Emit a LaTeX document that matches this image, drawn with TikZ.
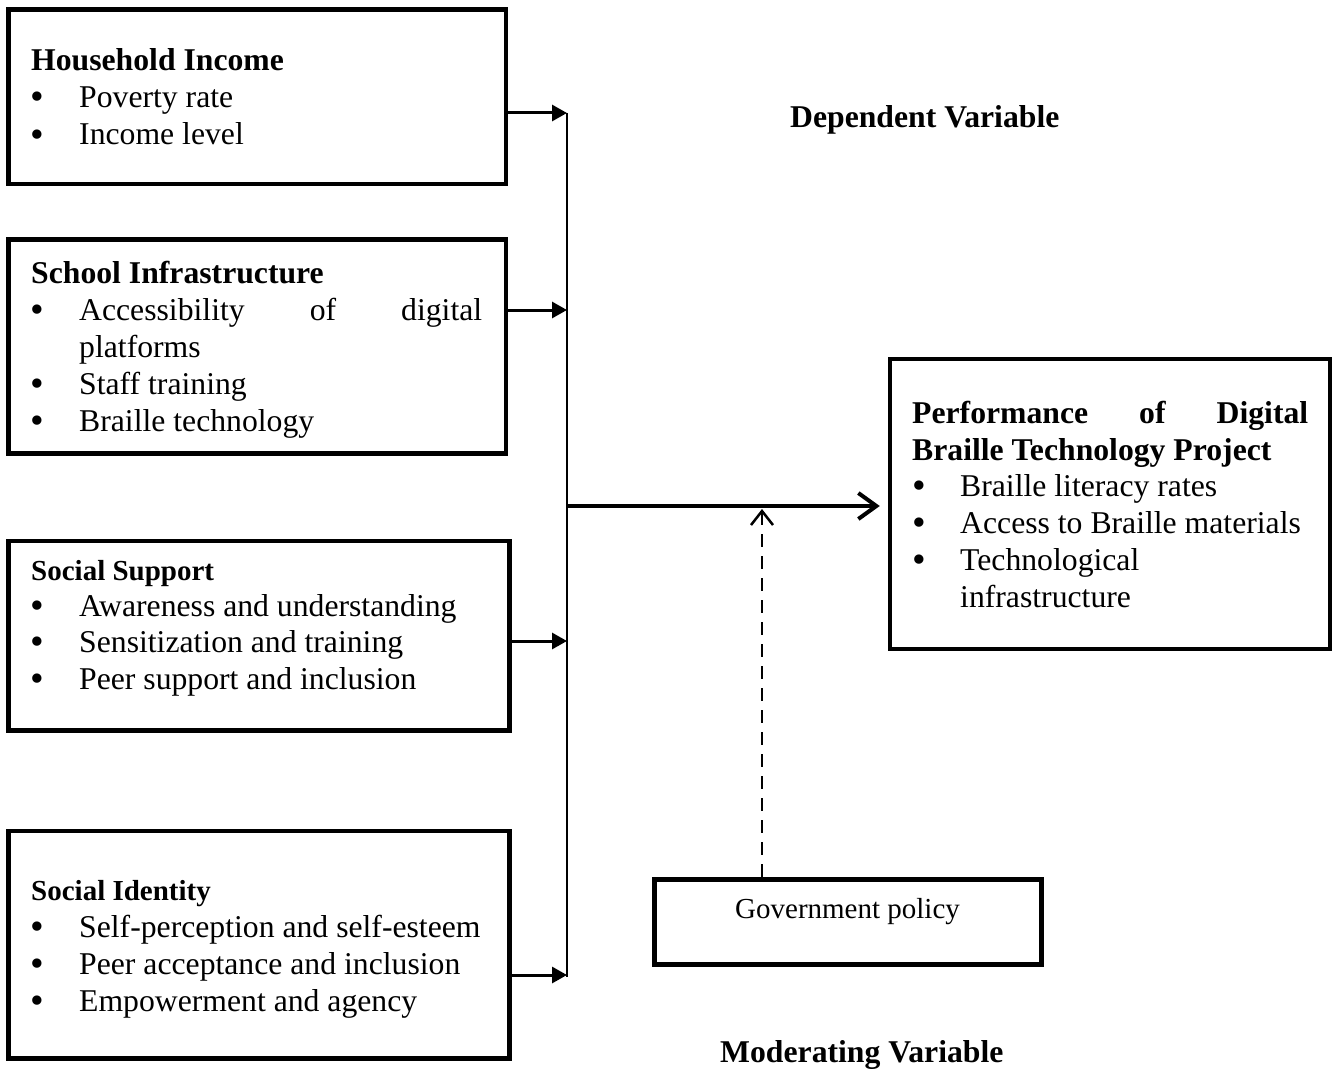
\documentclass[tikz,border=0pt]{standalone}
\usepackage{fontspec}
\setmainfont{Liberation Serif}
\usetikzlibrary{arrows.meta}
\begin{document}
\begin{tikzpicture}[x=1pt,y=-1pt,
  box/.style={draw, line width=4.5pt, inner sep=0pt},
  txt/.style={anchor=base west, inner sep=0pt, font=\fontsize{31.7}{37}\selectfont},
  bul/.style={anchor=base west, inner sep=0pt, yshift=-2pt, font=\fontsize{39}{39}\selectfont},
  head/.style={anchor=base west, inner sep=0pt, font=\fontsize{31.7}{37}\selectfont\bfseries},
  shead/.style={anchor=base west, inner sep=0pt, font=\fontsize{29}{34}\selectfont\bfseries},
  small/.style={anchor=base west, inner sep=0pt, font=\fontsize{29}{34}\selectfont},
  bus/.style={line width=2.5pt},
  feed/.style={line width=3pt, -{Triangle[length=15pt,width=16pt]}},
  mainarrow/.style={line width=4pt, -{Straight Barb[length=18pt,width=26pt,line width=4pt]}},
  modarrow/.style={line width=2.5pt, dash pattern=on 13pt off 9pt, -{Straight Barb[length=14pt,width=22pt,line width=2.5pt,sep=0pt]}}
]
\useasboundingbox (0,0) rectangle (1335,1070);

% boxes
\node[box, minimum width=497.5pt, minimum height=174.5pt] (b1) at (257.25,96.75) {};
\node[box, minimum width=497.5pt, minimum height=214pt] (b2) at (257.25,346.5) {};
\node[box, minimum width=501pt, minimum height=189.5pt] (b3) at (259,635.75) {};
\node[box, minimum width=501pt, minimum height=227.5pt] (b4) at (259,944.75) {};
\node[box, minimum width=440pt, minimum height=290pt] (rb) at (1110,504) {};
\node[box, line width=5pt, minimum width=387pt, minimum height=85.5pt] (gov) at (848,921.75) {};

% box 1
\node[head] (h1) at (31,70.5) {Household Income};
\node[bul] (b1a) at (30,108) {\textbullet};
\node[txt] (t1a) at (79,108) {Poverty rate};
\node[bul] (b1b) at (30,145) {\textbullet};
\node[txt] (t1b) at (79,145) {Income level};

% box 2
\node[head] (h2) at (31,283) {School Infrastructure};
\node[bul] (b2a) at (30,320) {\textbullet};
\node[txt] (t2a) at (79,320) {\hbox to 403pt{Accessibility\hfill of\hfill digital}};
\node[txt] (t2a2) at (79,357) {platforms};
\node[bul] (b2b) at (30,394) {\textbullet};
\node[txt] (t2b) at (79,394) {Staff training};
\node[bul] (b2c) at (30,431) {\textbullet};
\node[txt] (t2c) at (79,431) {Braille technology};

% box 3
\node[shead] (h3) at (31,580) {Social Support};
\node[bul] (b3a) at (30,616) {\textbullet};
\node[txt] (t3a) at (79,616) {Awareness and understanding};
\node[bul] (b3b) at (30,652) {\textbullet};
\node[txt] (t3b) at (79,652) {Sensitization and training};
\node[bul] (b3c) at (30,689) {\textbullet};
\node[txt] (t3c) at (79,689) {Peer support and inclusion};

% box 4
\node[shead] (h4) at (31,900) {Social Identity};
\node[bul] (b4a) at (30,937) {\textbullet};
\node[txt] (t4a) at (79,937) {Self-perception and self-esteem};
\node[bul] (b4b) at (30,974) {\textbullet};
\node[txt] (t4b) at (79,974) {Peer acceptance and inclusion};
\node[bul] (b4c) at (30,1011) {\textbullet};
\node[txt] (t4c) at (79,1011) {Empowerment and agency};

% right box
\node[head] (hr1) at (912,423) {\hbox to 396pt{Performance\hfill of\hfill Digital}};
\node[head] (hr2) at (912,460) {Braille Technology Project};
\node[bul] (bra) at (912,496) {\textbullet};
\node[txt] (tra) at (960,496) {Braille literacy rates};
\node[bul] (brb) at (912,533) {\textbullet};
\node[txt] (trb) at (960,533) {Access to Braille materials};
\node[bul] (brc) at (912,570) {\textbullet};
\node[txt] (trc) at (960,570) {Technological};
\node[txt] (trc2) at (960,607) {infrastructure};

% government policy
\node[small] (gp) at (735,918) {Government policy};

% labels
\node[head] (dv) at (790,128) {Dependent Variable};
\node[head] (mv) at (720,1062) {Moderating Variable};

% connectors
\coordinate (j1) at (567,113);
\coordinate (j2) at (567,310);
\coordinate (j3) at (567,641);
\coordinate (j4) at (567,975);
\coordinate (jb) at (567,977);
\draw[bus] (j1) -- (jb);
\draw[feed] (b1.east |- j1) -- (j1);
\draw[feed] (b2.east |- j2) -- (j2);
\draw[feed] (b3.east |- j3) -- (j3);
\draw[feed] (b4.east |- j4) -- (j4);

\coordinate (m) at (568,506);
\draw[mainarrow, shorten >=8pt] (m) -- (rb.west |- m);

\coordinate (d) at (762,509);
\draw[modarrow] (gov.north -| d) -- (d);
\end{tikzpicture}
\end{document}
